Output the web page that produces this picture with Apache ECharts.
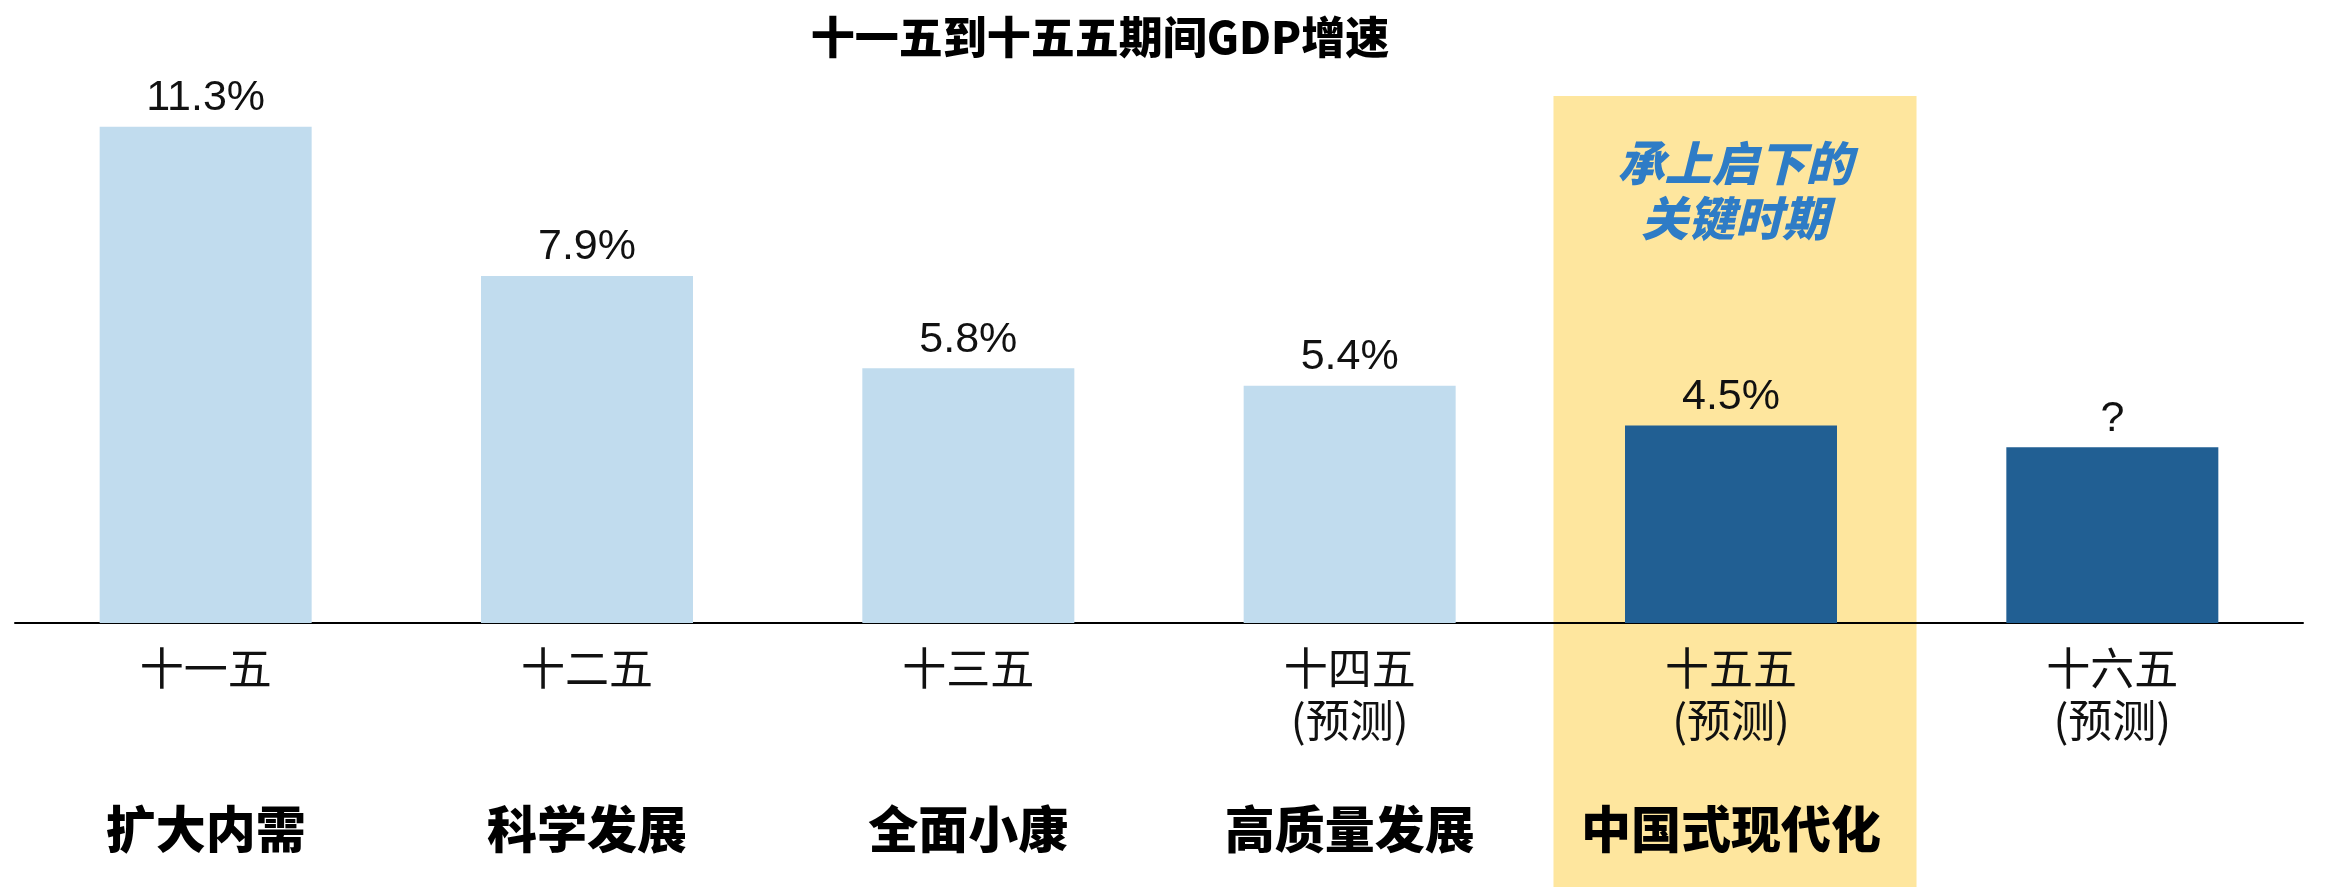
<!DOCTYPE html>
<html>
<head>
<meta charset="utf-8">
<script src="https://cdn.jsdelivr.net/npm/echarts@6/dist/echarts.min.js"></script>
<style>
html,body{margin:0;padding:0;background:#fff;}
#main{width:2337px;height:887px;}
</style>
</head>
<body>
<div id="main"></div>
<script>
var periods=['十一五','十二五','十三五','十四五\n(预测)','十五五\n(预测)','十六五\n(预测)']
var themes=['扩大内需','科学发展','全面小康','高质量发展','中国式现代化','']
var growth=[11.3,7.9,5.8,5.4,4.5,4.0]
var growthLabels=['11.3%','7.9%','5.8%','5.4%','4.5%','?']
var note='承上启下的\n关键时期'

var cjk="'Noto Sans CJK SC', sans-serif"
var latin="'Liberation Sans', 'Noto Sans CJK SC', sans-serif"
var light='#c1dcee', dark='#215f93'

var mychart=echarts.init(document.getElementById('main'));
var option={
	animation:false,
	title:{
		text:'十一五到十五五期间GDP增速',
		left:1095,
		top:10,
		textAlign:'center',
		textStyle:{fontFamily:cjk,fontSize:44,fontWeight:900,color:'#000'}
	},
	grid:{left:15,right:34,top:96,bottom:264,containLabel:false},
	xAxis:[{
		type:'category',
		data:periods,
		axisLine:{lineStyle:{color:'#000',width:2}},
		axisTick:{show:false},
		axisLabel:{fontFamily:cjk,fontSize:44,lineHeight:52,color:'#111',margin:19,interval:0}
	},{
		type:'category',
		data:themes,
		position:'bottom',
		axisLine:{show:false},
		axisTick:{show:false},
		axisLabel:{fontFamily:cjk,fontSize:50,fontWeight:900,lineHeight:60,color:'#000',margin:176,interval:0}
	}],
	yAxis:{type:'value',min:0,max:12,show:false,splitLine:{show:false}},
	series:[{
		type:'bar',
		xAxisIndex:0,
		barWidth:212,
		z:3,
		data:growth.map(function(v,i){
			return {value:v,itemStyle:{color:i>=4?dark:light}}
		}),
		label:{
			show:true,
			position:'top',
			distance:7,
			fontFamily:latin,
			fontSize:43,
			color:'#111',
			formatter:function(p){return growthLabels[p.dataIndex]}
		}
	}]
};
mychart.setOption(option);

// highlight band behind 十五五 and the note inside it
var cx=mychart.convertToPixel({xAxisIndex:0},periods[4])
var band=mychart.convertToPixel({xAxisIndex:0},periods[4])-mychart.convertToPixel({xAxisIndex:0},periods[3])
var topY=mychart.convertToPixel({yAxisIndex:0},12)
var w=band*0.952
mychart.setOption({
	graphic:[{
		type:'rect',
		z:-10,
		shape:{x:cx-w/2+4,y:topY,width:w,height:887-topY},
		style:{fill:'#fee69e'}
	},{
		type:'text',
		z:10,
		x:cx+4,
		y:191,
		style:{
			text:note,
			fill:'#2e7cc6',
			font:'italic 900 47px '+cjk,
			lineHeight:55,
			align:'center',
			verticalAlign:'middle'
		}
	}]
});
</script>
</body>
</html>
